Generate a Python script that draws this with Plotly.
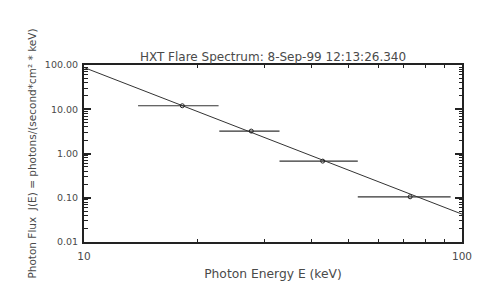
import plotly.graph_objects as go

# Data
energy = [18.2, 27.7, 42.8, 72.9]          # keV, point centres
flux = [12.0, 3.21, 0.673, 0.105]          # photons/(s cm^2 keV)
e_low = [13.9, 22.8, 32.9, 53.0]           # bin lower edges
e_high = [22.7, 32.9, 53.0, 93.3]          # bin upper edges
fit_energy = [10, 100]
fit_flux = [87.8, 0.0426]
y_ticks = [0.01, 0.1, 1, 10, 100]
y_tick_labels = ["0.01", "0.10", "1.00", "10.00", "100.00"]
x_ticks = [10, 100]
x_tick_labels = ["10", "100"]

FONT = "DejaVu Sans, Verdana, sans-serif"
INK = "#222222"
TXT = "#4a4a4a"

fig = go.Figure()

# fitted spectrum line
fig.add_trace(go.Scatter(
    x=fit_energy, y=fit_flux, mode="lines",
    line=dict(color="#333333", width=1), showlegend=False, hoverinfo="skip"))

# horizontal error bars (energy bins)
for lo, hi, f in zip(e_low, e_high, flux):
    fig.add_trace(go.Scatter(
        x=[lo, hi], y=[f, f], mode="lines",
        line=dict(color="#333333", width=1.2), showlegend=False, hoverinfo="skip"))

# data points
fig.add_trace(go.Scatter(
    x=energy, y=flux, mode="markers",
    marker=dict(symbol="circle-open", size=4, color="#222222", line=dict(width=1)),
    showlegend=False))

# invisible trace so the mirrored (top/right) axes are drawn
fig.add_trace(go.Scatter(
    x=fit_energy, y=fit_flux, mode="lines", xaxis="x2", yaxis="y2",
    line=dict(width=0, color="rgba(0,0,0,0)"), showlegend=False, hoverinfo="skip"))

common_minor = dict(ticks="inside", ticklen=3, tickcolor=INK, tickwidth=1, dtick="D1")
y_minor = dict(ticks="inside", ticklen=3.5, tickcolor=INK, tickwidth=1, dtick="D1")

fig.update_layout(
    template="none",
    width=496, height=299,
    margin=dict(l=76, r=42, t=57, b=65, pad=0),
    paper_bgcolor="white", plot_bgcolor="white",
    font=dict(family=FONT, size=10, color=TXT),
    title=dict(text="HXT Flare Spectrum: 8-Sep-99 12:13:26.340",
               x=0.5, xref="paper", xanchor="center",
               y=1, yref="paper", yanchor="bottom", pad=dict(b=4),
               font=dict(family=FONT, size=12, color=TXT)),
    xaxis=dict(
        type="log", range=[1, 2], automargin=False,
        tickvals=x_ticks, ticktext=x_tick_labels,
        ticks="inside", ticklen=4, tickwidth=1, tickcolor=INK,
        minor=common_minor,
        showline=True, linecolor=INK, linewidth=2,
        showgrid=False, zeroline=False,
        tickfont=dict(size=10.5, color=TXT), ticklabelstandoff=3,
        title=dict(text="Photon Energy E (keV)", standoff=9,
                   font=dict(size=12.3, color=TXT)),
    ),
    xaxis2=dict(
        type="log", range=[1, 2], automargin=False,
        overlaying="x", side="top", anchor="y",
        tickvals=x_ticks, showticklabels=False,
        ticks="inside", ticklen=4, tickwidth=1, tickcolor=INK,
        minor=common_minor,
        showline=True, linecolor=INK, linewidth=1.5,
        showgrid=False, zeroline=False,
    ),
    yaxis=dict(
        type="log", range=[-2, 2], automargin=False,
        tickvals=y_ticks, ticktext=y_tick_labels,
        ticks="inside", ticklen=7, tickwidth=1.5, tickcolor=INK,
        minor=y_minor,
        showline=True, linecolor=INK, linewidth=2,
        showgrid=False, zeroline=False,
        tickfont=dict(size=9.5, color=TXT), ticklabelstandoff=2,
        title=dict(text="Photon Flux  J(E) = photons/(second*cm² * keV)",
                   standoff=6, font=dict(size=10.5, color=TXT)),
    ),
    yaxis2=dict(
        type="log", range=[-2, 2], automargin=False,
        overlaying="y", side="right", anchor="x",
        tickvals=y_ticks, showticklabels=False,
        ticks="inside", ticklen=7, tickwidth=1.5, tickcolor=INK,
        minor=y_minor,
        showline=True, linecolor=INK, linewidth=2,
        showgrid=False, zeroline=False,
    ),
)

fig.write_html("out.html")
